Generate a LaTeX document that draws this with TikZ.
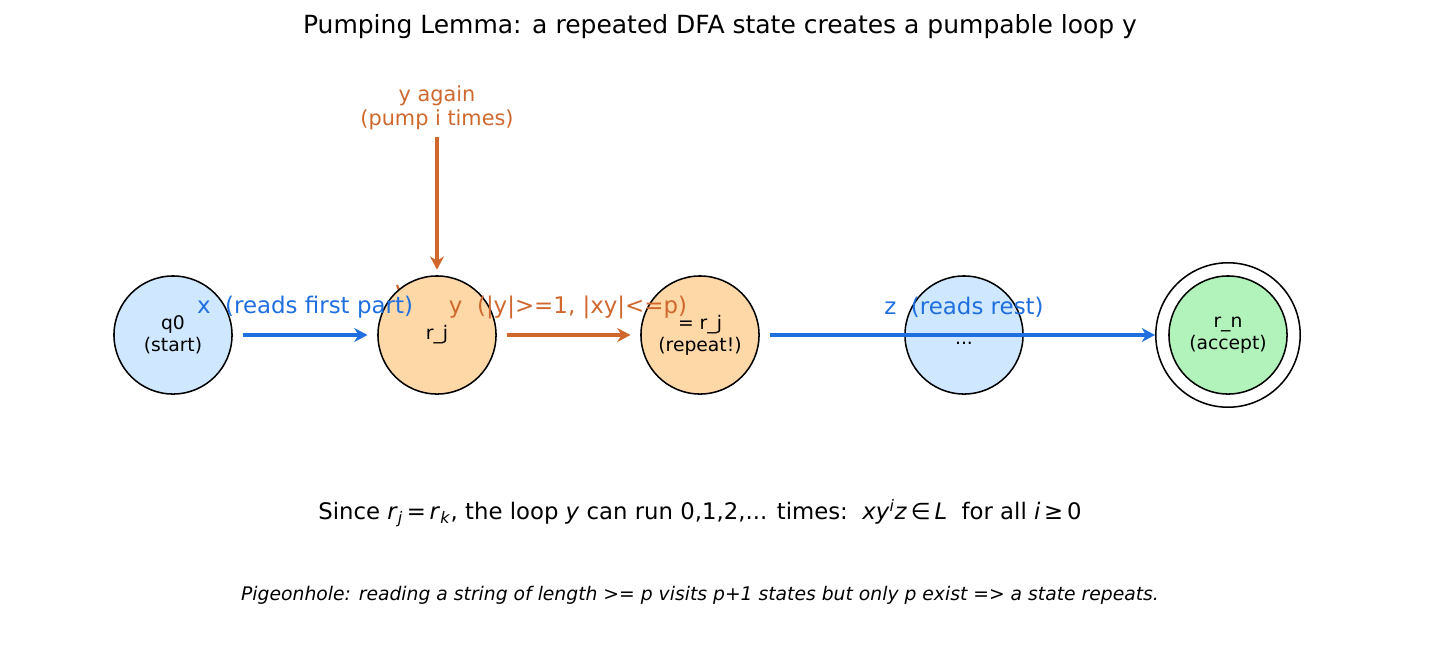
\documentclass[tikz,border=0pt]{standalone}
\usepackage{fontspec}
\setmainfont{DejaVu Sans}
\usetikzlibrary{arrows.meta}
\definecolor{bluefill}{HTML}{CFE8FF}
\definecolor{orangefill}{HTML}{FFD8A8}
\definecolor{greenfill}{HTML}{B2F2BB}
\definecolor{blueedge}{HTML}{1F6FE0}
\definecolor{orangeedge}{HTML}{D0682E}
\tikzset{
  state/.style={circle, draw=black, line width=1.1pt, minimum size=85pt, inner sep=0pt, align=center, font=\fontsize{13.5}{16}\selectfont},
  bluearrow/.style={draw=blueedge, line width=2.3pt, -{Stealth[length=9.5pt,width=10pt,inset=3pt]}},
  orangearrow/.style={draw=orangeedge, line width=2.3pt, -{Stealth[length=9.5pt,width=10pt,inset=3pt]}},
  bluelabel/.style={text=blueedge, font=\fontsize{16.5}{19}\selectfont},
  orangelabel/.style={text=orangeedge, font=\fontsize{16.5}{19}\selectfont, align=center},
}
\begin{document}
\begin{tikzpicture}[x=0.72pt, y=-0.72pt]
\useasboundingbox (0,0) rectangle (1440,667);
% tiny orange mark behind r_j
\draw[orangeedge, line width=1.6pt] (397,285) -- (399,290);
% states
\node[state, fill=bluefill] (q0) at (173,335) {q0\\(start)};
\node[state, fill=orangefill] (rj) at (437,335) {r\_j};
\node[state, fill=orangefill] (rk) at (700,335) {= r\_j\\(repeat!)};
\node[state, fill=bluefill] (dots) at (964,335) {};
\node[anchor=base, inner sep=0pt, font=\fontsize{13.5}{16}\selectfont] (dotstext) at (964,344) {...};
\node[state, fill=greenfill] (rn) at (1228,335) {r\_n\\(accept)};
\node[circle, draw=black, line width=1.1pt, minimum size=104pt, inner sep=0pt] (rnout) at (1228,335) {};
% top label
\node[orangelabel, font=\fontsize{15}{17}\selectfont] (again) at (437,108) {y again\\(pump i times)};
\coordinate (againend) at (437,137);
% arrows
\draw[bluearrow] ([xshift=7pt]q0.east) -- ([xshift=-7pt]rj.west);
\draw[orangearrow] ([xshift=7pt]rj.east) -- ([xshift=-7pt]rk.west);
\draw[bluearrow] ([xshift=7pt]rk.east) -- (rnout.west);
\draw[orangearrow] (againend) -- ([yshift=4pt]rj.north);
% edge labels
\node[bluelabel] (lx) at (305,307) {x\ \ (reads first part)};
\node[orangelabel] (ly) at (568,307) {y\ \ (|y|>=1, |xy|<=p)};
\node[bluelabel] (lz) at (964,307) {z\ \ (reads rest)};
% title
\node[font=\fontsize{18}{21}\selectfont] (title) at (720,27) {Pumping Lemma: a repeated DFA state creates a pumpable loop y};
% formula
\node[font=\fontsize{16.4}{19}\selectfont] (formula) at (700,513) {Since \textit{r}\textsubscript{\textit{j}}\,=\,\textit{r}\textsubscript{\textit{k}}, the loop \textit{y} can run 0,1,2,... times:\ \ \textit{xy}\textsuperscript{\textit{i}}\textit{z}\,∈\,\textit{L}\ \ for all \textit{i}\,≥\,0};
\node[font=\fontsize{13.5}{16}\selectfont\itshape] (note) at (700,595) {Pigeonhole: reading a string of length >= p visits p+1 states but only p exist => a state repeats.};
\end{tikzpicture}
\end{document}
